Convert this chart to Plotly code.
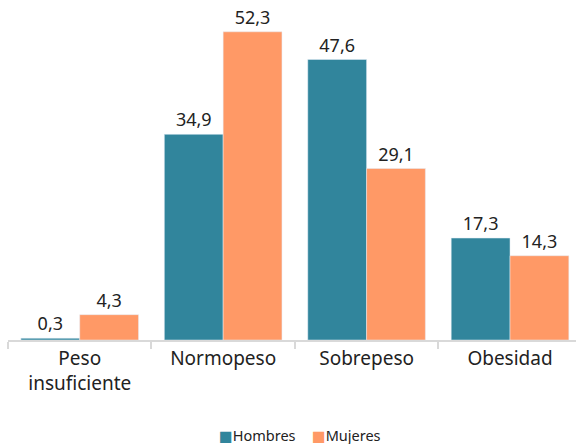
import plotly.graph_objects as go

categories = ["Peso<br>insuficiente", "Normopeso", "Sobrepeso", "Obesidad"]
hombres = [0.3, 34.9, 47.6, 17.3]
mujeres = [4.3, 52.3, 29.1, 14.3]
series_names = ["Hombres", "Mujeres"]
series_colors = ["#31859C", "#FF9966"]

def fmt(v):
    return f"{v:.1f}".replace(".", ",")

fig = go.Figure()
for name, vals, col in zip(series_names, [hombres, mujeres], series_colors):
    fig.add_bar(name=name, x=categories, y=vals, marker_color=col,
                text=[fmt(v) for v in vals], textposition="outside",
                textfont=dict(size=18, color="#222222"), cliponaxis=False,
                showlegend=False)

# compact legend (square glyph directly before text, as in the reference)
legend_x = [(217 - 8) / 568, (310 - 8) / 568]
for name, col, lx in zip(series_names, series_colors, legend_x):
    fig.add_annotation(xref="paper", yref="paper", x=lx, y=-0.288,
                       xanchor="left", yanchor="middle", showarrow=False,
                       text=f"<span style='color:{col}'>■</span>{name}",
                       font=dict(size=14.5, color="#222222"))

fig.update_layout(
    width=576, height=444,
    margin=dict(l=8, r=0, t=10, b=104, autoexpand=False),
    barmode="group", bargap=0.18, bargroupgap=0,
    plot_bgcolor="white", paper_bgcolor="white",
    font=dict(family="Noto Sans, DejaVu Sans, sans-serif", color="#222222"),
)
fig.update_xaxes(range=[-0.5, 3.46], showline=True, linecolor="#d9d9d9", linewidth=2,
                 ticks="outside", tickson="boundaries", ticklen=7, tickcolor="#d9d9d9",
                 tickwidth=2, tickfont=dict(size=19, color="#222222"), automargin=False)
fig.update_yaxes(range=[0, 56], visible=False, showgrid=False)

fig.write_html("out.html", config={"displayModeBar": False},
               post_script="document.body.style.margin='0';document.body.style.overflow='hidden';")
